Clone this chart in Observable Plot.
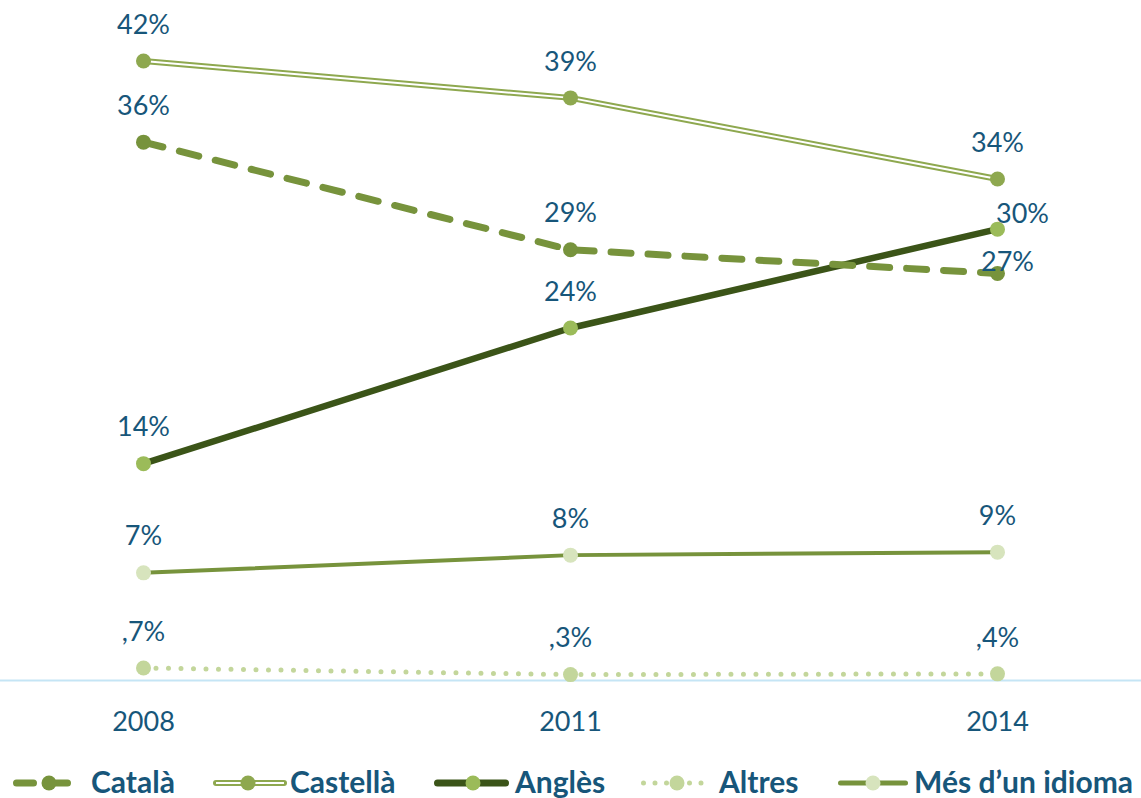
<!DOCTYPE html>
<html><head><meta charset="utf-8">
<script src="https://cdn.jsdelivr.net/npm/d3@7"></script>
<script src="https://cdn.jsdelivr.net/npm/@observablehq/plot@0.6"></script>
<style>
body{margin:0;background:#fff;font-family:Lato,"Open Sans",sans-serif;width:1141px;height:798px;overflow:hidden}
#chart svg,#legend svg{display:block}
</style></head>
<body><div id="chart"></div><div id="legend"></div>
<script>
const years = ["2008", "2011", "2014"];
const seriesNames = ["Català", "Castellà", "Anglès", "Altres", "Més d’un idioma"];
const catala   = [36.5, 29.2, 27.6];
const castella = [42.0, 39.5, 34.0];
const angles   = [14.7, 23.9, 30.6];
const altres   = [0.85, 0.4, 0.45];
const mes      = [7.3, 8.5, 8.7];
const catalaLabels   = ["36%", "29%", "27%"];
const castellaLabels = ["42%", "39%", "34%"];
const anglesLabels   = ["14%", "24%", "30%"];
const altresLabels   = [",7%", ",3%", ",4%"];
const mesLabels      = ["7%", "8%", "9%"];

const textColor = "#17567a";
const font = "Lato, 'Open Sans', sans-serif";
const values = [catala, castella, angles, altres, mes];
const labels = [catalaLabels, castellaLabels, anglesLabels, altresLabels, mesLabels];
const rows = [];
seriesNames.forEach((s, i) => years.forEach((y, j) => rows.push({series: s, year: y, value: values[i][j], label: labels[i][j]})));
const by = s => rows.filter(d => d.series === s);

const style = {
  "Català":   {stroke: "#77933c", dot: "#77933c"},
  "Castellà": {stroke: "#8ea84f", dot: "#8ea84f"},
  "Anglès":   {stroke: "#3b5418", dot: "#9bbb59"},
  "Altres":   {stroke: "#c3d69b", dot: "#c3d69b"},
  "Més d’un idioma": {stroke: "#77933c", dot: "#d7e4bd"}
};

const isAt = (s, y) => d => d.series === s && d.year === y;
const special = d => (d.series === "Català" || d.series === "Anglès") && d.year === "2014";

const chart = Plot.plot({
  width: 1141, height: 760,
  marginLeft: 0, marginRight: 0, marginTop: 0, marginBottom: 80,
  style: {fontFamily: font, background: "#fff"},
  x: {type: "point", domain: years, range: [142, 997], padding: 0, label: null},
  y: {domain: [0, 42], range: [680, 680 - 42 * 14.75], axis: null},
  marks: [
    Plot.ruleY([0], {stroke: "#c5e5f5", strokeWidth: 2}),
    Plot.axisX({tickSize: 0, tickPadding: 31, fontSize: 27, color: textColor, label: null}),
    Plot.line(by("Més d’un idioma"), {x: "year", y: "value", stroke: style["Més d’un idioma"].stroke, strokeWidth: 4}),
    Plot.line(by("Altres"), {x: "year", y: "value", stroke: style["Altres"].stroke, strokeWidth: 5, strokeDasharray: "0,12.5", strokeLinecap: "round"}),
    Plot.line(by("Anglès"), {x: "year", y: "value", stroke: style["Anglès"].stroke, strokeWidth: 6.5}),
    Plot.line(by("Català"), {x: "year", y: "value", stroke: style["Català"].stroke, strokeWidth: 7, strokeDasharray: "20,17", strokeLinecap: "round"}),
    Plot.line(by("Castellà"), {x: "year", y: "value", stroke: style["Castellà"].stroke, strokeWidth: 6}),
    Plot.line(by("Castellà"), {x: "year", y: "value", stroke: "#fff", strokeWidth: 2}),
    ...seriesNames.map(s => Plot.dot(by(s), {x: "year", y: "value", r: 7.5, fill: style[s].dot})),
    Plot.text(rows.filter(d => !special(d)), {x: "year", y: "value", text: "label", dy: -36, fontSize: 27, fill: textColor}),
    Plot.text(rows.filter(isAt("Anglès", "2014")), {x: "year", y: "value", text: "label", dx: 25, dy: -15, fontSize: 27, fill: textColor}),
    Plot.text(rows.filter(isAt("Català", "2014")), {x: "year", y: "value", text: "label", dx: 10, dy: -11, fontSize: 27, fill: textColor})
  ]
});
document.getElementById("chart").appendChild(chart);

// legend
const svg = d3.select("#legend").append("svg").attr("width", 1141).attr("height", 38).style("font-family", font);
const items = [
  {x0: 13, x1: 71, dot: 49, tx: 91},
  {x0: 213, x1: 287, dot: 248, tx: 290},
  {x0: 434, x1: 509, dot: 473, tx: 515},
  {x0: 641, x1: 708, dot: 677, tx: 719},
  {x0: 838, x1: 908, dot: 873, tx: 914}
];
const cy = 23;
seriesNames.forEach((s, i) => {
  const it = items[i], st = style[s];
  const g = svg.append("g");
  if (s === "Català") {
    g.append("line").attr("x1", it.x0 + 3.5).attr("x2", it.x1 - 3.5).attr("y1", cy).attr("y2", cy)
      .attr("stroke", st.stroke).attr("stroke-width", 7).attr("stroke-linecap", "round").attr("stroke-dasharray", "17,23");
  } else if (s === "Castellà") {
    g.append("line").attr("x1", it.x0 + 3).attr("x2", it.x1 - 3).attr("y1", cy).attr("y2", cy)
      .attr("stroke", st.stroke).attr("stroke-width", 6).attr("stroke-linecap", "round");
    g.append("line").attr("x1", it.x0 + 3).attr("x2", it.x1 - 3).attr("y1", cy).attr("y2", cy)
      .attr("stroke", "#fff").attr("stroke-width", 2);
  } else if (s === "Altres") {
    g.append("line").attr("x1", it.x0 + 2.5).attr("x2", it.x1).attr("y1", cy).attr("y2", cy)
      .attr("stroke", st.stroke).attr("stroke-width", 5).attr("stroke-linecap", "round").attr("stroke-dasharray", "0,11.5");
  } else {
    const w = s === "Anglès" ? 7 : 5;
    g.append("line").attr("x1", it.x0 + w / 2).attr("x2", it.x1 - w / 2).attr("y1", cy).attr("y2", cy)
      .attr("stroke", st.stroke).attr("stroke-width", w).attr("stroke-linecap", "round");
  }
  g.append("circle").attr("cx", it.dot).attr("cy", cy).attr("r", 7.5).attr("fill", st.dot);
  g.append("text").attr("x", it.tx).attr("y", cy + 10).attr("fill", textColor)
    .attr("font-size", 30).attr("font-weight", "bold").text(s);
});
</script>
</body></html>
